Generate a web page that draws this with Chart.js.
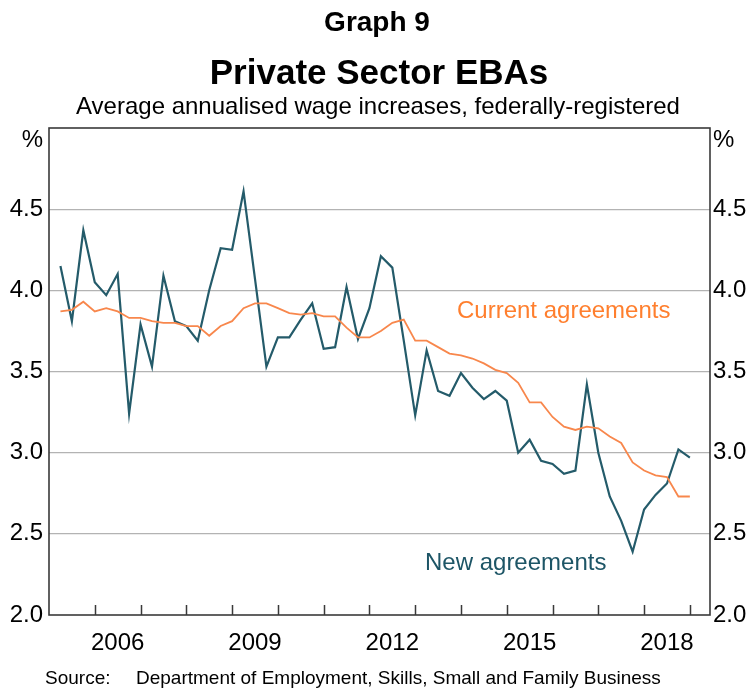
<!DOCTYPE html>
<html>
<head>
<meta charset="utf-8">
<script src="https://cdn.jsdelivr.net/npm/chart.js@4.4.1/dist/chart.umd.min.js"></script>
<style>
  html, body { margin: 0; padding: 0; background: #fff; }
  #wrap { width: 749px; height: 691px; }
</style>
</head>
<body>
<div id="wrap"><canvas id="eba" width="749" height="691"></canvas></div>
<script>
// Quarterly, March 2005 to December 2018 (plotted at quarter end)
const FIRST_QUARTER = 2005.25;

// Average annualised wage increase, per cent
const NEW_AGREEMENTS = [
  4.15, 3.81, 4.37, 4.05, 3.97, 4.10, 3.24, 3.79, 3.53, 4.09, 3.81, 3.78,
  3.69, 4.00, 4.26, 4.25, 4.61, 4.07, 3.53, 3.71, 3.71, 3.82, 3.92, 3.64,
  3.65, 4.02, 3.70, 3.89, 4.21, 4.14, 3.69, 3.23, 3.63, 3.38, 3.35, 3.49,
  3.40, 3.33, 3.38, 3.32, 3.00, 3.08, 2.95, 2.93, 2.87, 2.89, 3.42, 3.00,
  2.73, 2.58, 2.39, 2.65, 2.74, 2.81, 3.02, 2.97
];

const CURRENT_AGREEMENTS = [
  3.87, 3.88, 3.93, 3.87, 3.89, 3.87, 3.83, 3.83, 3.81, 3.80, 3.80, 3.78,
  3.78, 3.72, 3.78, 3.81, 3.89, 3.92, 3.92, 3.89, 3.86, 3.85, 3.86, 3.84,
  3.84, 3.77, 3.71, 3.71, 3.75, 3.80, 3.82, 3.69, 3.69, 3.65, 3.61, 3.60,
  3.58, 3.55, 3.51, 3.49, 3.43, 3.31, 3.31, 3.22, 3.16, 3.14, 3.16, 3.15,
  3.10, 3.06, 2.94, 2.89, 2.86, 2.85, 2.73, 2.73
];

const YEAR_LABELS = [2006, 2009, 2012, 2015, 2018];
const YEAR_TICKS = [2006, 2007, 2008, 2009, 2010, 2011, 2012, 2013, 2014, 2015, 2016, 2017, 2018, 2019];

const TEAL = "#245b6a";
const ORANGE = "#f8874c";
const FONT = "Arial, 'Liberation Sans', sans-serif";

function toPoints(values) {
  return values.map((v, i) => ({ x: FIRST_QUARTER + i * 0.25, y: v }));
}

// titles, unit labels, series labels, frame and year tick marks
const decorations = {
  id: "decorations",
  afterDraw(chart) {
    const { ctx, chartArea } = chart;
    const xs = chart.scales.x;
    ctx.save();

    ctx.strokeStyle = "#3a3a3a";
    ctx.lineWidth = 1.6;
    ctx.strokeRect(chartArea.left, chartArea.top, chartArea.right - chartArea.left, chartArea.bottom - chartArea.top);

    ctx.lineWidth = 1.5;
    ctx.beginPath();
    YEAR_TICKS.forEach((yr) => {
      const px = Math.round(xs.getPixelForValue(yr)) + 0.5;
      ctx.moveTo(px, chartArea.bottom);
      ctx.lineTo(px, chartArea.bottom - 10);
    });
    ctx.stroke();

    ctx.fillStyle = "#000";
    ctx.textAlign = "center";
    ctx.textBaseline = "alphabetic";
    ctx.font = `bold 28px ${FONT}`;
    ctx.fillText("Graph 9", 377, 31);
    ctx.font = `bold 35px ${FONT}`;
    ctx.fillText("Private Sector EBAs", 379, 84);
    ctx.font = `24px ${FONT}`;
    ctx.fillText("Average annualised wage increases, federally-registered", 378, 114);

    ctx.font = `24px ${FONT}`;
    ctx.textAlign = "right";
    ctx.fillText("%", 43, 147);
    ctx.textAlign = "left";
    ctx.fillText("%", 713, 147);

    ctx.fillStyle = "#ff7f2e";
    ctx.fillText("Current agreements", 457, 318);
    ctx.fillStyle = "#1d5566";
    ctx.fillText("New agreements", 425, 570);

    ctx.fillStyle = "#000";
    ctx.font = `19px ${FONT}`;
    ctx.fillText("Source:", 45, 684);
    ctx.fillText("Department of Employment, Skills, Small and Family Business", 136, 684);
    ctx.restore();
  }
};

const yTicks = (align) => ({
  stepSize: 0.5,
  padding: align === "left" ? 6 : 3,
  color: "#000",
  font: { family: FONT, size: 24 },
  callback: (v) => (v >= 5 ? "" : v.toFixed(1))
});

new Chart(document.getElementById("eba"), {
  type: "line",
  data: {
    datasets: [
      {
        label: "Current agreements",
        data: toPoints(CURRENT_AGREEMENTS),
        borderColor: ORANGE,
        borderWidth: 1.8,
        pointRadius: 0,
        tension: 0
      },
      {
        label: "New agreements",
        data: toPoints(NEW_AGREEMENTS),
        borderColor: TEAL,
        borderWidth: 2.2,
        pointRadius: 0,
        tension: 0
      }
    ]
  },
  options: {
    responsive: false,
    animation: false,
    layout: { padding: { top: 128, left: 0, right: 0, bottom: 0 } },
    plugins: {
      legend: { display: false },
      tooltip: { enabled: false }
    },
    scales: {
      x: {
        type: "linear",
        min: 2005,
        max: 2019.44,
        afterBuildTicks: (scale) => {
          scale.ticks = YEAR_LABELS.map((y) => ({ value: y + 0.5 }));
        },
        afterFit: (scale) => { scale.height = 76; },
        ticks: {
          autoSkip: false,
          maxRotation: 0,
          padding: 6,
          color: "#000",
          font: { family: FONT, size: 24 },
          callback: (v) => String(Math.floor(v))
        },
        grid: { display: false },
        border: { display: false }
      },
      y: {
        position: "left",
        min: 2,
        max: 5,
        afterFit: (scale) => { scale.width = 49; },
        ticks: yTicks("left"),
        grid: {
          drawTicks: false,
          lineWidth: 1.3,
          color: (c) => (c.tick.value <= 2 || c.tick.value >= 5 ? "rgba(0,0,0,0)" : "#b3b3b3")
        },
        border: { display: false }
      },
      y2: {
        position: "right",
        min: 2,
        max: 5,
        afterFit: (scale) => { scale.width = 39; },
        ticks: yTicks("right"),
        grid: { display: false, drawTicks: false },
        border: { display: false }
      }
    }
  },
  plugins: [decorations]
});
</script>
</body>
</html>
